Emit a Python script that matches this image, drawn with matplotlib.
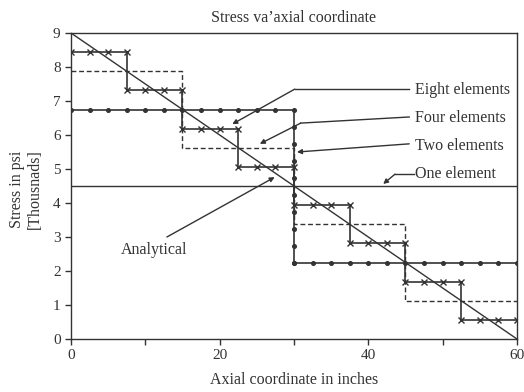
import matplotlib.pyplot as plt
import numpy as np

plt.rcParams['font.family'] = ['Liberation Serif', 'DejaVu Serif']

INK = '#333333'

# analytical solution (linear)
analytical_x = [0, 60]
analytical_y = [9, 0]

# one element
one_x = [0, 60]
one_y = [4.5, 4.5]

# two elements (dots along the steps)
two_x = [0, 2.5, 5, 7.5, 10, 12.5, 15, 17.5, 20, 22.5, 25, 27.5, 30,
         30, 30, 30, 30, 30, 30, 30, 30, 30,
         30, 32.5, 35, 37.5, 40, 42.5, 45, 47.5, 50, 52.5, 55, 57.5, 60]
two_y = [6.75] * 13 + [6.25, 5.75, 5.25, 4.75, 4.25, 3.75, 3.25, 2.75, 2.25] + [2.25] * 13

# four elements (dashed)
four_x = [0, 15, 15, 30, 30, 45, 45, 60]
four_y = [7.875, 7.875, 5.625, 5.625, 3.375, 3.375, 1.125, 1.125]

# eight elements (x markers)
eight_x = [0, 2.5, 5, 7.5, 7.5, 10, 12.5, 15, 15, 17.5, 20, 22.5, 22.5, 25, 27.5, 30,
           30, 32.5, 35, 37.5, 37.5, 40, 42.5, 45, 45, 47.5, 50, 52.5, 52.5, 55, 57.5, 60]
eight_vals = [8.44, 7.31, 6.19, 5.06, 3.94, 2.81, 1.69, 0.56]
eight_y = [v for v in eight_vals for _ in range(4)]

fig = plt.figure(figsize=(5.24, 3.92), dpi=100)
ax = fig.add_axes([0.1355, 0.1352, 0.8511, 0.7806])

ax.plot(analytical_x, analytical_y, color=INK, lw=1)
ax.plot(one_x, one_y, color=INK, lw=1)
ax.plot(two_x, two_y, color=INK, lw=1.2, marker='o', ms=2.6)
ax.plot(four_x, four_y, color=INK, lw=1, linestyle=(0, (3.5, 2)))
ax.plot(eight_x, eight_y, color=INK, lw=1.2, marker='x', ms=4, mew=1)

ax.set_xlim(0, 60)
ax.set_ylim(0, 9)
ax.set_xticks(np.arange(0, 61, 10))
ax.set_xticklabels(['0', '', '20', '', '40', '', '60'])
ax.set_yticks(np.arange(0, 10, 1))
ax.tick_params(direction='out', length=4, width=1, color=INK, labelcolor=INK,
               labelsize=11)
for s in ax.spines.values():
    s.set_color(INK)
    s.set_linewidth(1)

ax.set_title('Stress va’axial coordinate', fontsize=11.5, color=INK, pad=8)
ax.set_xlabel('Axial coordinate in inches', fontsize=11.5, color=INK, labelpad=7)
ax.set_ylabel('Stress in psi\n[Thousnads]', fontsize=11.5, color=INK,
              linespacing=1.2)
ax.yaxis.set_label_coords(-0.063, 0.49)

arrow = dict(arrowstyle='-|>', color=INK, lw=1, mutation_scale=7,
             shrinkA=0, shrinkB=0)

labels = [
    ('Eight elements', (46.3, 7.33), [(45.5, 7.35), (30.1, 7.35)], (21.7, 6.32)),
    ('Four elements', (46.3, 6.49), [(45.5, 6.53), (30.9, 6.35)], (25.4, 5.74)),
    ('Two elements', (46.3, 5.68), [(45.5, 5.74)], (30.4, 5.50)),
    ('One element', (46.3, 4.85), [(46.2, 4.85), (43.6, 4.85)], (42.0, 4.56)),
]
for txt, tpos, pts, head in labels:
    px, py = zip(*pts)
    ax.plot(px, py, color=INK, lw=1)
    ax.annotate('', xy=head, xytext=pts[-1], arrowprops=arrow)
    ax.text(tpos[0], tpos[1], txt, fontsize=11.5, color=INK, ha='left', va='center')

ax.annotate('', xy=(27.4, 4.76), xytext=(12.9, 3.0), arrowprops=arrow)
ax.text(11.2, 2.62, 'Analytical', fontsize=11.5, color=INK, ha='center', va='center')

fig.savefig('out.png', dpi=100)
